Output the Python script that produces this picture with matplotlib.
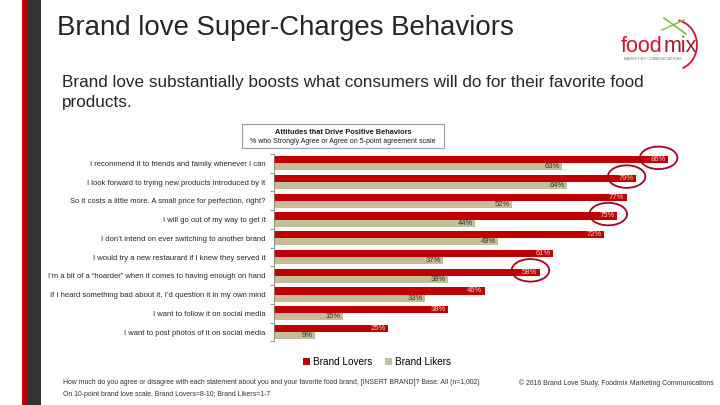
import numpy as np
import matplotlib.pyplot as plt
from matplotlib.patches import Rectangle, Ellipse, Arc

plt.rcParams['font.family'] = ['Liberation Sans', 'DejaVu Sans']

# data
statements = [
    "I recommend it to friends and family whenever I can",
    "I look forward to trying new products introduced by it",
    "So it costs a little more. A small price for perfection, right?",
    "I will go out of my way to get it",
    "I don\u2019t intend on ever switching to another brand",
    "I would try a new restaurant if I knew they served it",
    "I\u2019m a bit of a \u201choarder\u201d when it comes to having enough on hand",
    "If I heard something bad about it, I\u2019d question it in my own mind",
    "I want to follow it on social media",
    "I want to post photos of it on social media",
]
lovers = [86, 79, 77, 75, 72, 61, 58, 46, 38, 25]
likers = [63, 64, 52, 44, 49, 37, 38, 33, 15, 9]
circled = [0, 1, 3, 6]

RED = "#C00000"
TAN = "#C4BD97"
W, H = 720, 405

fig = plt.figure(figsize=(7.2, 4.05), dpi=100)

# overlay in pixel coords for slide decorations
deco = fig.add_axes([0, 0, 1, 1])
deco.set_xlim(0, W)
deco.set_ylim(H, 0)
deco.axis("off")
deco.add_patch(Rectangle((22, 0), 6, H, color=RED, lw=0))
deco.add_patch(Rectangle((28, 0), 13, H, color="#333333", lw=0))

deco.text(57, 28, "Brand love Super-Charges Behaviors", fontsize=19.9,
          color="#262626", va="center", ha="left")
deco.text(62, 82, "Brand love substantially boosts what consumers will do for their favorite food",
          fontsize=12.3, color="#262626", va="center", ha="left")
deco.text(62, 102, "products.", fontsize=12.3, color="#262626", va="center", ha="left")

# logo
deco.text(621, 46, "food", fontsize=15.5, color="#D2122E", va="center", ha="left")
deco.text(664, 46, "mix", fontsize=15.5, color="#9E1B32", va="center", ha="left")
deco.text(624, 59, "MARKETING COMMUNICATIONS", fontsize=2.7, color="#777777",
          va="center", ha="left")
deco.add_patch(Arc((674, 45), 46, 50, theta1=-80, theta2=70, color="#D2122E", lw=1.3))
deco.plot([664, 686], [18, 34], color="#7DBB42", lw=1.2)
deco.plot([662, 684], [30, 20], color="#7DBB42", lw=1.0)

# chart title box
deco.add_patch(Rectangle((242, 124), 202, 24, fill=False, ec="#9E9E9E", lw=0.8))
deco.text(343, 132, "Attitudes that Drive Positive Behaviors", fontsize=5.3,
          fontweight="bold", color="#1a1a1a", ha="center", va="center")
deco.text(343, 141.5, "% who Strongly Agree or Agree on 5-point agreement scale",
          fontsize=5.0, color="#1a1a1a", ha="center", va="center")

# footnotes
deco.text(63, 383, "How much do you agree or disagree with each statement about you and your favorite food brand, "
          "[INSERT BRAND]? Base: All (n=1,002)", fontsize=4.98, color="#333333", va="center")
deco.text(63, 394, "On 10-point brand love scale, Brand Lovers=8-10; Brand Likers=1-7",
          fontsize=4.98, color="#333333", va="center")
deco.text(714, 383, "\u00a9 2016 Brand Love Study, Foodmix Marketing Communications",
          fontsize=4.98, color="#333333", va="center", ha="right")

# bar chart
ax = fig.add_axes([274 / W, 1 - 341.4 / H, 435 / W, (341.4 - 153.9) / H])
y = np.arange(len(statements))
bh = 0.38
ax.barh(y - bh / 2, lovers, height=bh, color=RED, label="Brand Lovers")
ax.barh(y + bh / 2, likers, height=bh, color=TAN, label="Brand Likers")
ax.set_xlim(0, 95)
ax.set_ylim(len(statements) - 0.5, -0.5)
for i in range(len(statements)):
    ax.text(lovers[i] - 0.5, y[i] - bh / 2, f"{lovers[i]}%", fontsize=5.5,
            color="#F4D0D0", ha="right", va="center")
    ax.text(likers[i] - 0.5, y[i] + bh / 2, f"{likers[i]}%", fontsize=5.5,
            color="#333333", ha="right", va="center")
for i in circled:
    ax.add_patch(Ellipse((lovers[i] - 2, y[i] - bh / 2 - 0.1), 8.2, 1.2, fill=False,
                         ec="#A50021", lw=1.3, clip_on=False))

ax.set_yticks(np.arange(-0.5, len(statements)), minor=False)
ax.set_yticklabels([])
ax.set_yticks(y, minor=True)
ax.set_yticklabels(statements, minor=True, fontsize=5.5, color="#262626")
ax.tick_params(axis="y", which="major", length=3, color="#868686", width=0.6)
ax.tick_params(axis="y", which="minor", length=0, pad=6)
ax.set_xticks([])
for s in ["top", "right", "bottom"]:
    ax.spines[s].set_visible(False)
ax.spines["left"].set_color("#868686")
ax.spines["left"].set_linewidth(0.6)

fig.legend(loc="center", bbox_to_anchor=(377 / W, 1 - 362 / H), ncol=2, frameon=False,
           fontsize=7.2, handlelength=0.7, handleheight=0.7, handletextpad=0.3,
           columnspacing=1.2)

fig.savefig("out.png", dpi=100)
